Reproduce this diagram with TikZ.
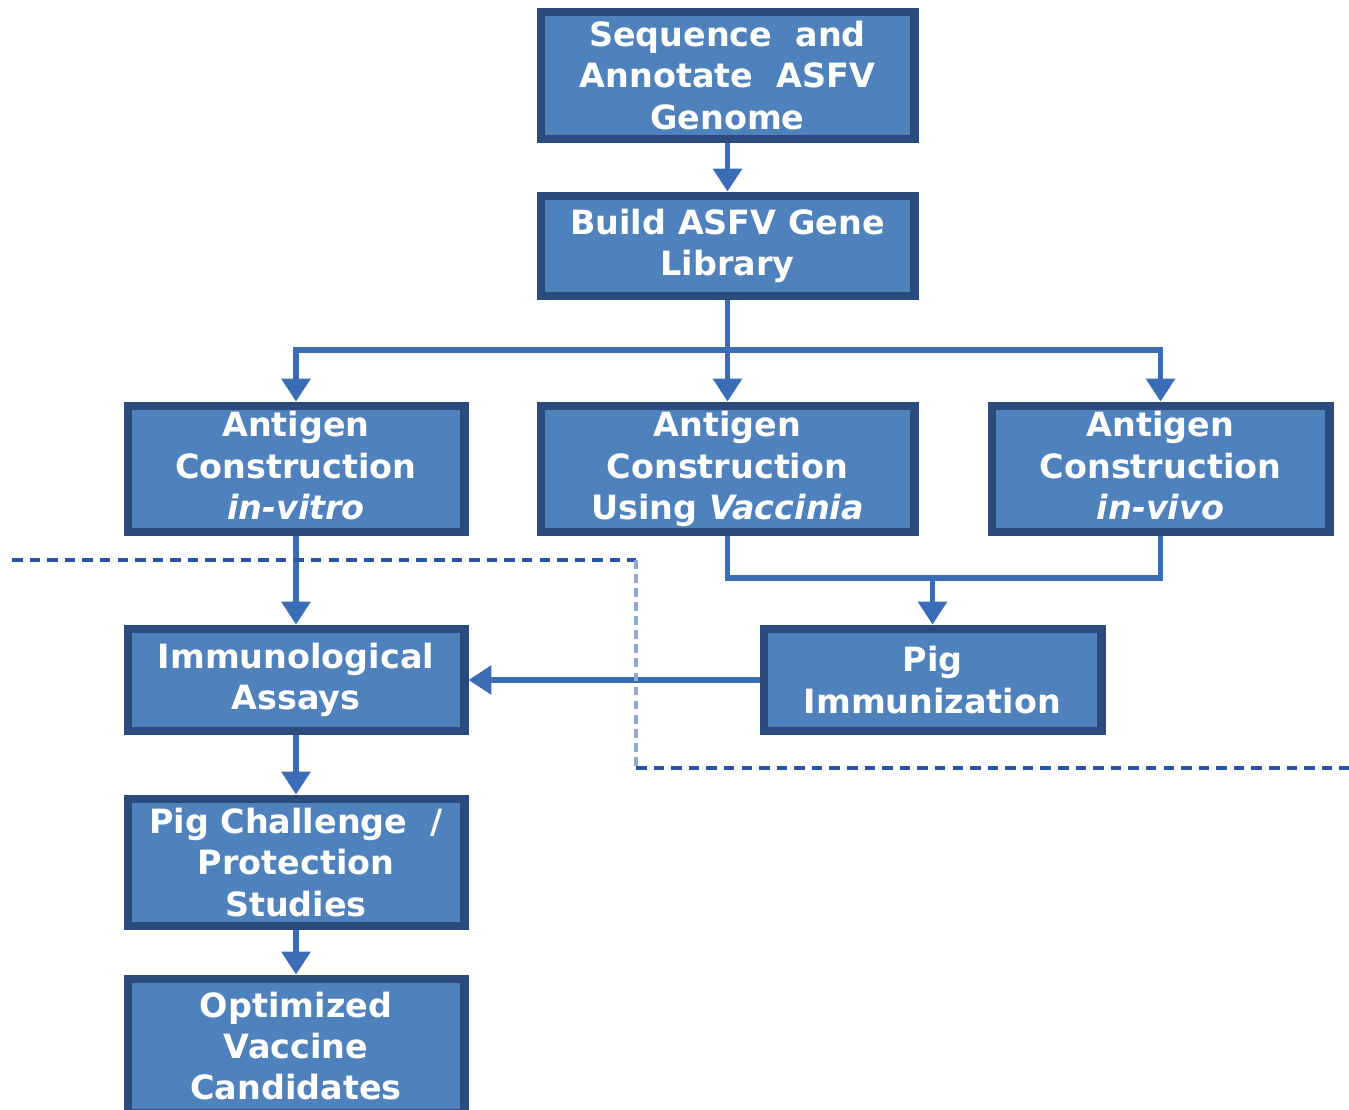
\documentclass[tikz,border=0pt]{standalone}
\usepackage{fontspec}
\setmainfont{DejaVu Sans}
\usetikzlibrary{arrows.meta}
\definecolor{boxfill}{HTML}{4F81BD}
\definecolor{boxline}{HTML}{2A4B7C}
\definecolor{arrline}{HTML}{3A6DB5}
\definecolor{dashdark}{HTML}{2457A8}
\definecolor{dashlight}{HTML}{8EA9D6}
\tikzset{
  stepbox/.style={draw=boxline, fill=boxfill, line width=2.5pt, text=white,
    font=\bfseries\fontsize{9.5}{11.7}\selectfont, align=center, inner sep=0pt},
  arr/.style={draw=arrline, line width=1.5pt, -{Triangle[width=8pt,length=6.5pt]}},
  conn/.style={draw=arrline, line width=1.5pt},
  divline/.style={draw=dashdark, line width=0.9pt, dash pattern=on 3pt off 2pt},
  divvert/.style={draw=dashlight, line width=1.1pt, dash pattern=on 2.5pt off 1.5pt}
}
\begin{document}
\begin{tikzpicture}[x=0.01cm, y=-0.01cm, >=stealth]
  \useasboundingbox (0,0) rectangle (1349,1110);
  % boxes
  \node[stepbox, minimum width=3.73cm, minimum height=1.27cm] (seq) at (727.5,75.5)
    {Sequence\ \ and\\ Annotate\ \ ASFV\\ Genome};
  \node[stepbox, minimum width=3.73cm, minimum height=1.00cm] (lib) at (727.5,246)
    {Build ASFV Gene\\ Library};
  \node[stepbox, minimum width=3.36cm, minimum height=1.26cm] (invitro) at (296,469)
    {Antigen\\ Construction\\ \itshape in-vitro\vphantom{g}};
  \node[stepbox, minimum width=3.73cm, minimum height=1.26cm] (vacc) at (727.5,469)
    {Antigen\\ Construction\\ Using \itshape Vaccinia};
  \node[stepbox, minimum width=3.37cm, minimum height=1.26cm] (invivo) at (1160.5,469)
    {Antigen\\ Construction\\ \itshape in-vivo\vphantom{g}};
  \node[stepbox, minimum width=3.36cm, minimum height=1.02cm] (assay) at (296,680)
    {Immunological\\ Assays};
  \node[stepbox, minimum width=3.37cm, minimum height=1.02cm] (pigimm) at (932.5,680)
    {Pig\\ Immunization};
  \node[stepbox, minimum width=3.36cm, minimum height=1.27cm] (chall) at (296,862.5)
    {Pig Challenge\ \ /\\ Protection\\ Studies};
  \node[stepbox, minimum width=3.36cm, minimum height=1.34cm] (optim) at (296,1046)
    {Optimized\\ Vaccine\\ Candidates};
  % connectors
  \coordinate (split) at (727.5,350);
  \coordinate (join) at (932.5,578);
  \draw[arr] (seq) -- (lib);
  \draw[arr] (lib) -- (vacc);
  \draw[arr] (split) -| (invitro);
  \draw[arr] (split) -| (invivo);
  \draw[conn] (vacc.south) |- (join) -| (invivo.south);
  \draw[arr] (join) -- (pigimm);
  \draw[arr] (invitro) -- (assay);
  \draw[arr] (pigimm) -- (assay);
  \draw[arr] (assay) -- (chall);
  \draw[arr] (chall) -- (optim);
  % divider
  \draw[divline] (12,560) -- (636,560);
  \draw[divvert] (636,560) -- (636,768);
  \draw[divline] (636,768) -- (1349,768);
\end{tikzpicture}
\end{document}
